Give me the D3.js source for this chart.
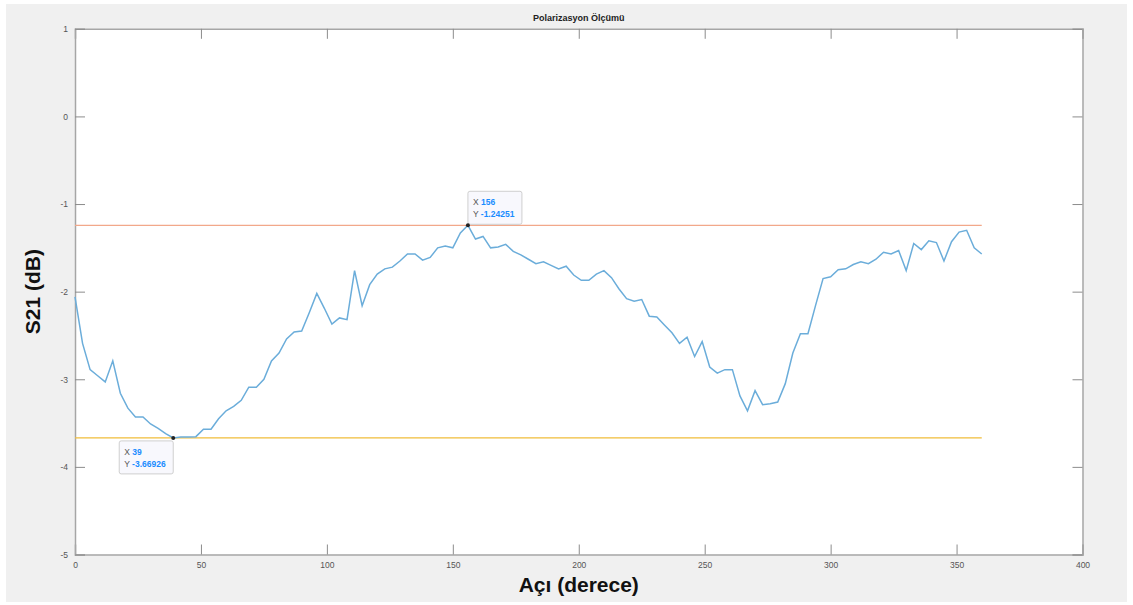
<!DOCTYPE html>
<html>
<head>
<meta charset="utf-8">
<script src="https://cdnjs.cloudflare.com/ajax/libs/d3/7.8.5/d3.min.js"></script>
<style>
  body { margin: 0; background: #fff; }
  svg { display: block; font-family: "Liberation Sans", Arial, sans-serif; }
</style>
</head>
<body>
<div id="chart"></div>
<script>
// Polarizasyon Ölçümü - S21 vs angle

var angles = d3.range(0, 361, 3);
var s21 = [
  -2.06, -2.59, -2.89, -2.96, -3.03, -2.79, -3.16, -3.33, -3.43, -3.43,
  -3.51, -3.56, -3.62, -3.66926, -3.66, -3.66, -3.655, -3.57, -3.57, -3.45,
  -3.36, -3.31, -3.24, -3.09, -3.09, -3.00, -2.79, -2.70, -2.54, -2.46,
  -2.45, -2.24, -2.02, -2.19, -2.37, -2.30, -2.32, -1.76, -2.16, -1.92,
  -1.80, -1.74, -1.72, -1.65, -1.57, -1.57, -1.64, -1.61, -1.50, -1.48,
  -1.50, -1.33, -1.24251, -1.40, -1.37, -1.50, -1.49, -1.46, -1.54, -1.58,
  -1.63, -1.68, -1.66, -1.70, -1.74, -1.71, -1.81, -1.87, -1.87, -1.80,
  -1.76, -1.84, -1.97, -2.08, -2.11, -2.09, -2.28, -2.29, -2.38, -2.47,
  -2.59, -2.52, -2.74, -2.57, -2.86, -2.93, -2.89, -2.89, -3.19, -3.36,
  -3.13, -3.29, -3.28, -3.26, -3.05, -2.70, -2.48, -2.48, -2.16, -1.85,
  -1.83, -1.75, -1.74, -1.69, -1.66, -1.68, -1.63, -1.55, -1.57, -1.53,
  -1.76, -1.45, -1.52, -1.42, -1.44, -1.65, -1.43, -1.32, -1.30, -1.50,
  -1.57
];
var xTicks = [0, 50, 100, 150, 200, 250, 300, 350, 400];
var yTicks = [1, 0, -1, -2, -3, -4, -5];
var maxLine = -1.24251, minLine = -3.66926;
var tips = [
  {x: 156, y: -1.24251, label: "-1.24251", side: "up"},
  {x: 39, y: -3.66926, label: "-3.66926", side: "down"}
];

var W = 1133, H = 605;
var pLeft = 75, pRight = 1082.5, pTop = 28.8, pBottom = 554.5;

var svg = d3.select("#chart").append("svg")
    .attr("width", W)
    .attr("height", H);

// figure background
svg.append("rect")
    .attr("x", 6).attr("y", 4)
    .attr("width", 1121).attr("height", 598)
    .attr("fill", "#f0f0f0");

var x = d3.scaleLinear().domain([0, 400]).range([pLeft, pRight]);
var y = d3.scaleLinear().domain([-5, 1]).range([pBottom, pTop]);

svg.append("rect")
    .attr("x", pLeft).attr("y", pTop)
    .attr("width", pRight - pLeft).attr("height", pBottom - pTop)
    .attr("fill", "#fff");

// axes, matlab style ticks pointing in, plain hyphen minus
var fmt = function(d) { return String(d); };
var axB = svg.append("g").attr("transform", "translate(0," + pBottom + ")")
    .call(d3.axisBottom(x).tickValues(xTicks).tickSize(-10).tickPadding(7).tickFormat(fmt));
var axT = svg.append("g").attr("transform", "translate(0," + pTop + ")")
    .call(d3.axisTop(x).tickValues(xTicks).tickSize(-10).tickFormat(""));
var axL = svg.append("g").attr("transform", "translate(" + pLeft + ",0)")
    .call(d3.axisLeft(y).tickValues(yTicks).tickSize(-10).tickPadding(7).tickFormat(fmt));
var axR = svg.append("g").attr("transform", "translate(" + pRight + ",0)")
    .call(d3.axisRight(y).tickValues(yTicks).tickSize(-10).tickFormat(""));

[axB, axT, axL, axR].forEach(function(a) {
  a.selectAll(".domain").attr("stroke", "#a6a6a6").attr("stroke-width", 1.5);
  a.selectAll(".tick line").attr("stroke", "#8c8c8c");
  a.selectAll("text").attr("fill", "#555").style("font-size", "8.5px");
});

// reference lines
svg.append("line")
    .attr("x1", x(0)).attr("x2", x(360))
    .attr("y1", y(maxLine)).attr("y2", y(maxLine))
    .attr("stroke", "#f2a88a").attr("stroke-width", 1.3);
svg.append("line")
    .attr("x1", x(0)).attr("x2", x(360))
    .attr("y1", y(minLine)).attr("y2", y(minLine))
    .attr("stroke", "#f0bd3a").attr("stroke-width", 1.3);

var line = d3.line()
    .x(function(d, i) { return x(angles[i]); })
    .y(function(d) { return y(d); });

svg.append("path")
    .datum(s21)
    .attr("d", line)
    .attr("fill", "none")
    .attr("stroke", "#6badda")
    .attr("stroke-width", 1.5);

// data tips
tips.forEach(function(t) {
  var px = x(t.x), py = y(t.y);
  var bx = t.side == "up" ? px : px - 54;
  var by = t.side == "up" ? py - 34 : py + 3;
  var g = svg.append("g");
  g.append("rect")
      .attr("x", bx).attr("y", by)
      .attr("width", 54).attr("height", 33)
      .attr("rx", 2)
      .attr("fill", "#f8f8fd")
      .attr("stroke", "#cfcfcf");
  var tx = g.append("text").attr("x", bx + 5).attr("y", by + 14).style("font-size", "8.5px");
  tx.append("tspan").attr("fill", "#555").text("X ");
  tx.append("tspan").attr("fill", "#1a8cff").attr("font-weight", "bold").text(t.x);
  var ty = g.append("text").attr("x", bx + 5).attr("y", by + 26).style("font-size", "8.5px");
  ty.append("tspan").attr("fill", "#555").text("Y ");
  ty.append("tspan").attr("fill", "#1a8cff").attr("font-weight", "bold").text(t.label);
  g.append("circle").attr("cx", px).attr("cy", py).attr("r", 2).attr("fill", "#222");
});

// labels
svg.append("text")
    .attr("x", (pLeft + pRight) / 2).attr("y", 21)
    .attr("text-anchor", "middle")
    .attr("font-weight", "bold")
    .style("font-size", "9px")
    .attr("fill", "#222")
    .text("Polarizasyon Ölçümü");

svg.append("text")
    .attr("x", (pLeft + pRight) / 2).attr("y", 592)
    .attr("text-anchor", "middle")
    .attr("font-weight", "bold")
    .style("font-size", "21px")
    .attr("fill", "#111")
    .text("Açı (derece)");

svg.append("text")
    .attr("transform", "translate(40," + (pTop + pBottom) / 2 + ") rotate(-90)")
    .attr("text-anchor", "middle")
    .attr("font-weight", "bold")
    .style("font-size", "21px")
    .attr("fill", "#111")
    .text("S21 (dB)");
</script>
</body>
</html>
